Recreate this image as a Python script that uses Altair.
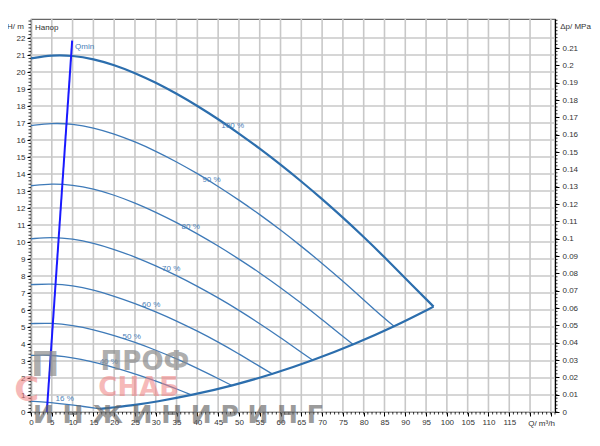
import altair as alt
import pandas as pd

# ---- pump curves (Q in m3/h, H in m) ----
Q100 = [0, 5, 10, 15, 20, 25, 30, 35, 40, 45, 50, 55, 60, 65, 70, 75, 80, 85, 90, 96.8]
H100 = [20.8, 21.0, 20.97, 20.77, 20.42, 19.95, 19.38, 18.73, 18.01, 17.23, 16.39, 15.5, 14.56, 13.57, 12.53, 11.44, 10.3, 9.11, 7.87, 6.2]
Q90 = [0, 5, 10, 15, 20, 25, 30, 35, 40, 45, 50, 55, 60, 65, 70, 75, 80, 85, 87.4]
H90 = [16.85, 17.0, 16.95, 16.73, 16.37, 15.9, 15.35, 14.72, 14.03, 13.28, 12.47, 11.62, 10.71, 9.75, 8.75, 7.7, 6.6, 5.5, 5.03]
Q80 = [0, 5, 10, 15, 20, 25, 30, 35, 40, 45, 50, 55, 60, 65, 70, 75, 77.5]
H80 = [13.31, 13.44, 13.36, 13.13, 12.77, 12.3, 11.76, 11.15, 10.49, 9.77, 9.0, 8.19, 7.32, 6.4, 5.43, 4.45, 3.97]
Q70 = [0, 5, 10, 15, 20, 25, 30, 35, 40, 45, 50, 55, 60, 65, 67.8]
H70 = [10.19, 10.29, 10.19, 9.94, 9.57, 9.13, 8.6, 8.03, 7.4, 6.72, 5.99, 5.2, 4.38, 3.51, 3.04]
Q60 = [0, 5, 10, 15, 20, 25, 30, 35, 40, 45, 50, 55, 58.1]
H60 = [7.49, 7.55, 7.44, 7.18, 6.82, 6.39, 5.9, 5.36, 4.76, 4.12, 3.42, 2.68, 2.23]
Q50 = [0, 5, 10, 15, 20, 25, 30, 35, 40, 45, 48.4]
H50 = [5.2, 5.24, 5.1, 4.85, 4.5, 4.1, 3.64, 3.13, 2.58, 1.97, 1.55]
Q40 = [0, 4, 8, 12, 16, 20, 24, 28, 32, 36, 38.7]
H40 = [3.33, 3.36, 3.27, 3.1, 2.88, 2.62, 2.33, 2.0, 1.65, 1.26, 0.99]
Q16 = [0, 4, 8, 12, 16.6]
H16 = [0.63, 0.58, 0.47, 0.35, 0.18]
QSYS = [16.6, 20, 25, 30, 38.7, 48.4, 58.1, 67.8, 77.5, 87.4, 96.8]
HSYS = [0.18, 0.27, 0.41, 0.6, 0.99, 1.55, 2.23, 3.04, 3.97, 5.03, 6.2]
QMIN_Q = [3.8, 9.9]
QMIN_H = [0, 21.85]

# ---- curve labels ----
LABEL_TEXT = ["100 %", "90 %", "80 %", "70 %", "60 %", "50 %", "40 %", "16 %"]
LABEL_Q = [48.5, 43.4, 38.4, 33.7, 28.9, 24.2, 18.7, 8.1]
LABEL_H = [16.85, 13.67, 10.86, 8.42, 6.27, 4.43, 2.96, 0.75]

# ---- axes ----
H_MAX = 23.12
M_PER_MPA = 101.97
X_TICKS = list(range(0, 130, 5))
Y_TICKS = list(range(0, 23))
P_TICKS = [round(i * 0.01, 2) for i in range(0, 22)]
X_MINOR = list(range(0, 127))
Y_MINOR = [round(i * 0.2, 1) for i in range(0, 116)]
P_MINOR = [round(i * 0.002, 3) for i in range(0, 114)]

THICK = "#2c6ead"
THIN = "#3e7ab8"
LBL = "#4a80b8"
GRID = "#c8c8c8"

curves = [
    ("100", Q100, H100, 2.2, THICK),
    ("90", Q90, H90, 1.3, THIN),
    ("80", Q80, H80, 1.3, THIN),
    ("70", Q70, H70, 1.3, THIN),
    ("60", Q60, H60, 1.3, THIN),
    ("50", Q50, H50, 1.3, THIN),
    ("40", Q40, H40, 1.3, THIN),
    ("16", Q16, H16, 1.3, THIN),
    ("sys", QSYS, HSYS, 2.2, THICK),
    ("qmin", QMIN_Q, QMIN_H, 2.0, "#1a1aff"),
]
rows = []
for name, qs, hs, w, c in curves:
    for q, h in zip(qs, hs):
        rows.append({"Q": q, "H": h, "curve": name, "w": w, "c": c})
df_lines = pd.DataFrame(rows)

xscale = alt.Scale(domain=[0, 126], nice=False, zero=False)
yscale = alt.Scale(domain=[0, H_MAX], nice=False, zero=False)
pscale = alt.Scale(domain=[0, H_MAX / M_PER_MPA], nice=False, zero=False)

xaxis = alt.Axis(values=X_TICKS, labelExpr="datum.value >= 120 ? '' : datum.label",
                 title="Q/ m³/h", titleX=510, titleY=11, titleAlign="center",
                 titleBaseline="middle", titleFontWeight="normal", titleFontSize=8,
                 grid=False, tickSize=4,
                 tickColor="black", domainColor="black", domainWidth=1.2,
                 labelFontSize=8, labelPadding=2, labelFlush=False)
yaxis = alt.Axis(orient="left", values=Y_TICKS, title="H/ m", titleAngle=0, titleX=-16, titleY=7,
                 titleAlign="center", titleBaseline="middle", titleFontWeight="normal",
                 titleFontSize=8, grid=False,
                 tickSize=4, tickColor="black", domainColor="black", domainWidth=1.2,
                 labelFontSize=8, labelPadding=2, labelFlush=False)
paxis = alt.Axis(orient="right", values=P_TICKS, format=".2~f", title="Δp/ MPa",
                 titleAngle=0, titleX=20, titleY=7, titleAlign="center",
                 titleBaseline="middle", titleFontWeight="normal", titleFontSize=8,
                 grid=False, tickSize=4, tickColor="black", domainColor="black",
                 domainWidth=1.2, labelFontSize=8, labelPadding=3, labelFlush=False)

X = alt.X("Q:Q", scale=xscale, axis=xaxis)
Y = alt.Y("H:Q", scale=yscale, axis=yaxis)

# grid lines (explicit segments spanning the plot)
vgrid = alt.Chart(pd.DataFrame({"Q": X_TICKS})).mark_rule(
    color=GRID, strokeWidth=1.6).encode(x=X, y=alt.value(0), y2=alt.value(393))
hgrid = alt.Chart(pd.DataFrame({"H": Y_TICKS})).mark_rule(
    color=GRID, strokeWidth=1.6).encode(y=Y, x=alt.value(0), x2=alt.value(524))

lines = alt.Chart(df_lines).mark_line(interpolate="basis").encode(
    x=X, y=Y,
    detail="curve:N",
    strokeWidth=alt.StrokeWidth("w:Q", scale=None),
    color=alt.Color("c:N", scale=None),
)

df_lbl = pd.DataFrame({"Q": LABEL_Q, "H": LABEL_H, "t": LABEL_TEXT})
labels = alt.Chart(df_lbl).mark_text(fontSize=8, color=LBL, font="Liberation Sans").encode(
    x=X, y=Y, text="t:N")

df_misc = pd.DataFrame({"Q": [10.6, 0.96], "H": [21.47, 22.59], "t": ["Qmin", "Напор"],
                        "c": [LBL, "#333333"]})
misc = alt.Chart(df_misc).mark_text(fontSize=8, align="left", font="Liberation Sans").encode(
    x=X, y=Y, text="t:N", color=alt.Color("c:N", scale=None))

ymin = alt.Chart(pd.DataFrame({"H": Y_MINOR})).mark_rule(color="black", strokeWidth=0.8).encode(
    y=Y, x=alt.value(0), x2=alt.value(-2.5))
xmin = alt.Chart(pd.DataFrame({"Q": X_MINOR})).mark_rule(color="black", strokeWidth=0.8).encode(
    x=X, y=alt.value(393), y2=alt.value(395.5))

# ---- watermark ----
df_wm_gray = pd.DataFrame({"Q": [27.4, 3.4], "H": [2.95, 2.68], "t": ["ПРОФ", "П"], "s": [26, 34]})
df_wm_red = pd.DataFrame({"Q": [25.9, -1.0], "H": [1.39, 1.21], "t": ["СНАБ", "С"], "s": [26, 34]})
df_wm_bot = pd.DataFrame({"Q": [35.3], "H": [-0.2], "t": ["И Н Ж И Н И Р И Н Г"]})
wm1 = alt.Chart(df_wm_gray).mark_text(font="DejaVu Sans", fontWeight="bold", color="#8c8c8c",
                                      opacity=0.7).encode(
    x=X, y=Y, text="t:N", size=alt.Size("s:Q", scale=None))
wm2 = alt.Chart(df_wm_red).mark_text(font="DejaVu Sans", fontWeight="bold", color="#f08080",
                                     opacity=0.55).encode(
    x=X, y=Y, text="t:N", size=alt.Size("s:Q", scale=None))
wm3 = alt.Chart(df_wm_bot).mark_text(font="DejaVu Sans", fontWeight="bold", color="#666666",
                                     opacity=0.65, fontSize=25).encode(
    x=X, y=Y, text="t:N")

left = alt.layer(vgrid, hgrid, lines, labels, misc, ymin, xmin, wm1, wm2, wm3)

# right-hand pressure axis (MPa), independent scale aligned with head scale
pmin = alt.Chart(pd.DataFrame({"P": P_MINOR})).mark_rule(color="black", strokeWidth=0.8).encode(
    y=alt.Y("P:Q", scale=pscale, axis=paxis), x=alt.value(524), x2=alt.value(526.5))

chart = alt.layer(left, pmin).resolve_scale(y="independent").properties(
    width=524, height=393,
    autosize=alt.AutoSizeParams(type="none"),
    padding={"left": 23, "top": 11, "right": 37, "bottom": 26},
    background="white",
).configure_view(stroke="#666666", strokeWidth=1.2).configure_axis(
    labelFont="Liberation Sans", titleFont="Liberation Sans",
    labelColor="#333333", titleColor="#333333")

chart.save("out.html", embed_options={"renderer": "svg", "actions": False})
